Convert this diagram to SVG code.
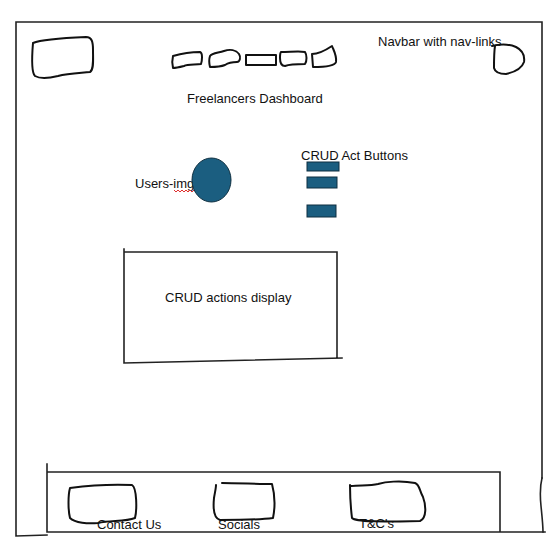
<svg xmlns="http://www.w3.org/2000/svg" width="548" height="551" viewBox="0 0 548 551">
<style>
.frame{fill:none;stroke:#222;stroke-width:1.6;stroke-linecap:square}
.ink{fill:none;stroke:#111;stroke-width:2;stroke-linejoin:round;stroke-linecap:round}
.btn{fill:#1b5e80;stroke:#0e2f40;stroke-width:1}
.t{font-family:"Liberation Sans",Arial,sans-serif;font-size:13px;fill:#111}
</style>
<rect width="548" height="551" fill="#fff"/>
<g id="page-frame">
<path class="frame" d="M16,22 L542,22 M16,22 L16,536 M542,22 L542,478 M16,536 L47,535"/>
<path class="frame" d="M542,478 C540,486 540,496 541,506 C542,516 543,525 543,532"/>
</g>
<g id="navbar">
<path class="ink" d="M33,43 C40,40 62,38 86,37 C92,37 93,42 93,50 C93,60 94,70 90,72 C80,73 68,73 58,76 C50,78 40,79 35,76 C31,72 32,55 33,43 Z"/>
<path class="ink" d="M173,56 C180,54 192,52 200,52 C203,53 202,61 201,64 C196,65 188,64 184,66 C180,67 176,68 173,68 C172,64 172,60 173,56 Z"/>
<path class="ink" d="M210,56 C212,53 218,53 224,51 C230,49 236,50 239,54 C241,57 240,62 237,62 C232,62 228,63 225,65 C220,67 215,67 210,67 C209,63 209,59 210,56 Z"/>
<rect class="ink" x="246" y="55" width="30" height="10" stroke-width="1.6"/>
<path class="ink" d="M281,52 C290,52 300,51 305,52 C307,55 307,61 305,64 C298,64 290,64 285,66 C281,66 280,62 280,58 C280,55 280,53 281,52 Z"/>
<path class="ink" d="M312,54 C318,54 326,50 332,46 C334,51 337,56 336,62 C335,66 325,67 313,67 L312,54 Z"/>
<path class="ink" d="M492,46 C500,44 509,44 516,47 C522,50 525,55 524,62 C522,68 515,72 506,74 C500,74 495,72 494,68 C494,60 494,52 495,46"/>
<text class="t" x="378" y="46">Navbar with nav-links</text>
</g>
<g id="title">
<text class="t" x="187" y="103">Freelancers Dashboard</text>
</g>
<g id="users-img">
<text class="t" x="135" y="188">Users-img</text>
<path d="M174,190 l2,2 l2,-2 l2,2 l2,-2 l2,2 l2,-2 l2,2 l2,-2 l2,2 l2,-2" fill="none" stroke="#e03030" stroke-width="1"/>
<ellipse class="btn" cx="211.5" cy="180" rx="19.5" ry="22"/>
</g>
<g id="crud-buttons">
<text class="t" x="301" y="160">CRUD Act Buttons</text>
<rect class="btn" x="307" y="162" width="32" height="9"/>
<rect class="btn" x="307" y="177" width="30" height="11"/>
<rect class="btn" x="307" y="205" width="29" height="12"/>
</g>
<g id="crud-display">
<path class="frame" d="M124,249 L124,363 M124,252 L337,252 M337,252 L337,358 M124,363 L342,358"/>
<text class="t" x="165" y="302">CRUD actions display</text>
</g>
<g id="footer">
<path class="frame" d="M47,464 L47,532 M48,472 L500,472 M500,472 L500,532 M47,532 L545,532"/>
<path class="ink" d="M70,488 C85,486 110,484 132,485 C137,488 137,510 135,518 C125,522 110,520 98,523 C88,524 75,523 70,518 C68,510 68,495 70,488 Z"/>
<path class="ink" d="M222,483 C235,483 260,484 272,484 C275,495 275,508 273,518 C258,520 235,520 220,520 C213,518 213,508 214,498 C215,492 216,488 216,485"/>
<path class="ink" d="M350,485 C350,497 351,510 352,518 C356,522 380,522 420,521 C427,518 426,505 423,497 C419,490 420,485 415,483 C400,480 385,482 378,484 C370,486 360,485 351,486"/>
<text class="t" x="97" y="529">Contact Us</text>
<text class="t" x="218" y="529">Socials</text>
<text class="t" x="359" y="528" font-size="12">T&amp;C's</text>
</g>
<g id="connectors"/>
</svg>
